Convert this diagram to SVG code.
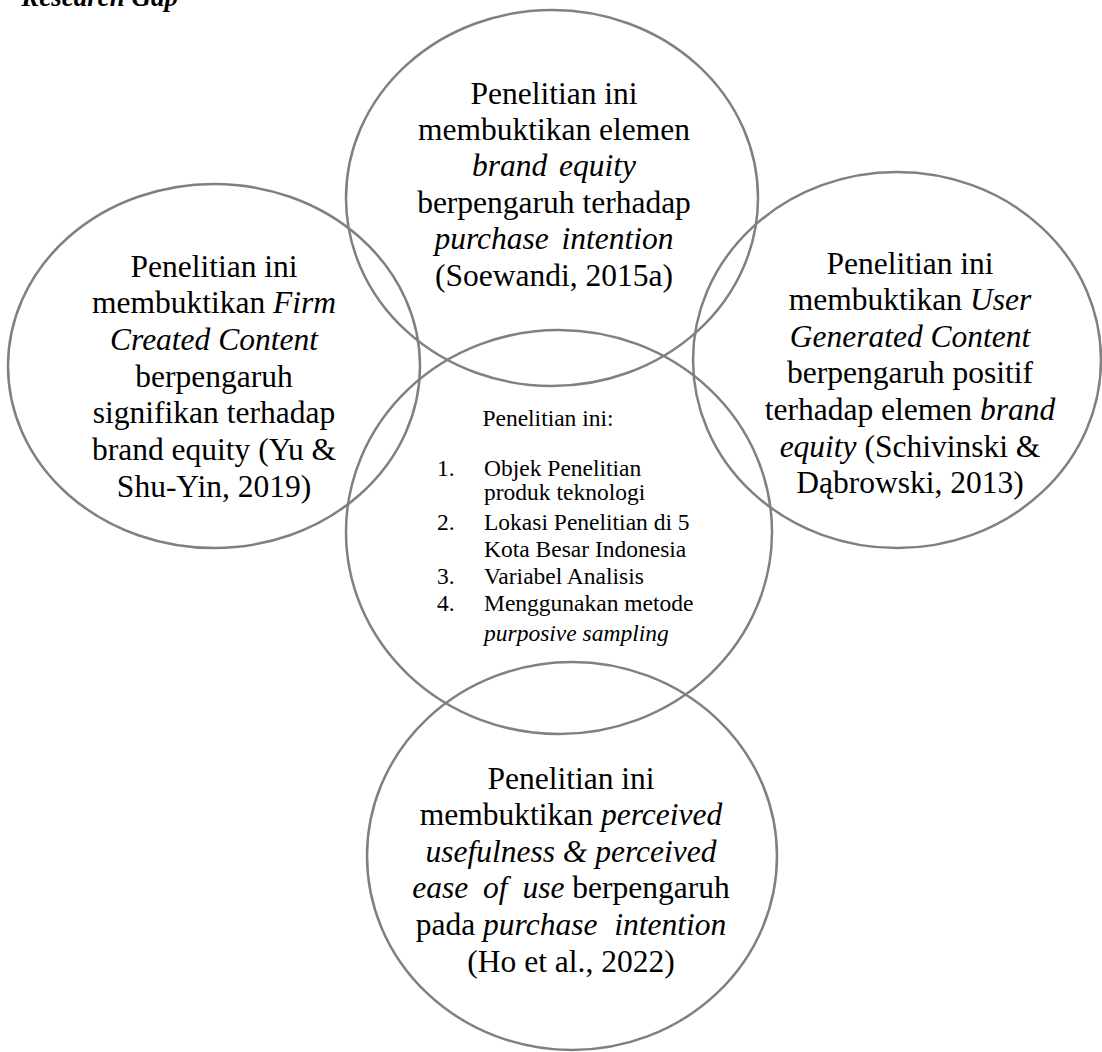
<svg xmlns="http://www.w3.org/2000/svg" width="1102" height="1052" viewBox="0 0 1102 1052">
  <style>
    .ring { fill: none; stroke: #808080; stroke-width: 2.5; }
    .big { font-family: "Liberation Serif", "Times New Roman", serif; font-size: 31.5px; fill: #000; text-anchor: middle; }
    .small { font-family: "Liberation Serif", "Times New Roman", serif; font-size: 23.5px; fill: #000; }
    .it { font-style: italic; }
    .title { font-family: "Liberation Serif", "Times New Roman", serif; font-size: 27px; font-weight: bold; font-style: italic; fill: #000; }
  </style>
  <rect width="1102" height="1052" fill="#fff"/>

  <text class="title" x="178" y="6" text-anchor="end">Research Gap</text>

  <!-- research circles -->
  <g id="top-circle">
    <ellipse class="ring" cx="552" cy="198" rx="206" ry="188"/>
    <text class="big" x="554" y="104">Penelitian ini</text>
    <text class="big" x="554" y="140">membuktikan elemen</text>
    <text class="big it" x="554" y="176" word-spacing="4">brand equity</text>
    <text class="big" x="554" y="213">berpengaruh terhadap</text>
    <text class="big it" x="554" y="249" word-spacing="5">purchase intention</text>
    <text class="big" x="554" y="286">(Soewandi, 2015a)</text>
  </g>

  <g id="left-circle">
    <ellipse class="ring" cx="214" cy="366" rx="206" ry="182"/>
    <text class="big" x="214" y="277">Penelitian ini</text>
    <text class="big" x="214" y="313">membuktikan <tspan class="it">Firm</tspan></text>
    <text class="big it" x="214" y="350">Created Content</text>
    <text class="big" x="214" y="387">berpengaruh</text>
    <text class="big" x="214" y="423">signifikan terhadap</text>
    <text class="big" x="214" y="460">brand equity (Yu &amp;</text>
    <text class="big" x="214" y="497">Shu-Yin, 2019)</text>
  </g>

  <g id="right-circle">
    <ellipse class="ring" cx="897" cy="360" rx="204" ry="188"/>
    <text class="big" x="910" y="274">Penelitian ini</text>
    <text class="big" x="910" y="310">membuktikan <tspan class="it">User</tspan></text>
    <text class="big it" x="910" y="347">Generated Content</text>
    <text class="big" x="910" y="383">berpengaruh positif</text>
    <text class="big" x="910" y="420">terhadap elemen <tspan class="it">brand</tspan></text>
    <text class="big" x="910" y="457"><tspan class="it">equity</tspan> (Schivinski &amp;</text>
    <text class="big" x="910" y="493">Dąbrowski, 2013)</text>
  </g>

  <g id="center-circle">
    <ellipse class="ring" cx="559" cy="532" rx="213" ry="202"/>
    <text class="small" x="548" y="426" text-anchor="middle">Penelitian ini:</text>
    <text class="small" x="437" y="476">1.</text>
    <text class="small" x="484" y="476">Objek Penelitian</text>
    <text class="small" x="484" y="500">produk teknologi</text>
    <text class="small" x="437" y="530">2.</text>
    <text class="small" x="484" y="530">Lokasi Penelitian di 5</text>
    <text class="small" x="484" y="557">Kota Besar Indonesia</text>
    <text class="small" x="437" y="584">3.</text>
    <text class="small" x="484" y="584">Variabel Analisis</text>
    <text class="small" x="437" y="611">4.</text>
    <text class="small" x="484" y="611">Menggunakan metode</text>
    <text class="small it" x="484" y="641">purposive sampling</text>
  </g>

  <g id="bottom-circle">
    <ellipse class="ring" cx="572" cy="856" rx="205" ry="194"/>
    <text class="big" x="571" y="789">Penelitian ini</text>
    <text class="big" x="571" y="825">membuktikan <tspan class="it">perceived</tspan></text>
    <text class="big it" x="571" y="862">usefulness &amp; perceived</text>
    <text class="big" x="571" y="898"><tspan class="it" word-spacing="7">ease of use</tspan> berpengaruh</text>
    <text class="big" x="571" y="935">pada <tspan class="it" word-spacing="9">purchase intention</tspan></text>
    <text class="big" x="571" y="972">(Ho et al., 2022)</text>
  </g>

  <!-- no connectors: the circles overlap directly -->
  <g id="connectors"/>
</svg>
